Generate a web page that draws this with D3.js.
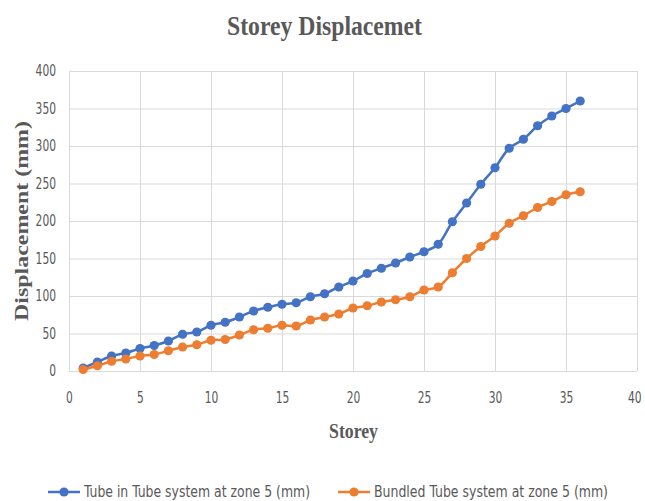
<!DOCTYPE html>
<html>
<head>
<meta charset="utf-8">
<script src="https://cdn.jsdelivr.net/npm/d3@7/dist/d3.min.js"></script>
<style>
  html, body { margin: 0; padding: 0; background: #ffffff; }
  svg { display: block; }
</style>
</head>
<body>
<div id="chart"></div>
<script>
// ---- Data ----
const storeys = d3.range(1, 37);
const tubeInTube = [4, 12, 20, 24, 30, 34, 40, 49, 52, 61, 65, 72, 80, 85, 89, 91, 99, 103, 112, 120,
  130, 137, 144, 152, 159, 169, 199, 224, 249, 271, 297, 309, 327, 340, 350, 360];
const bundledTube = [2, 7, 13, 16, 20, 22, 27, 32, 35, 41, 42, 48, 55, 57, 61, 60, 68, 72, 76, 84,
  87, 92, 95, 99, 108, 112, 131, 150, 166, 180, 197, 207, 218, 226, 235, 239];
const seriesNames = ["Tube in Tube system at zone 5 (mm)", "Bundled Tube system at zone 5 (mm)"];
const seriesColors = ["#4472C4", "#ED7D31"];
const xTicks = [0, 5, 10, 15, 20, 25, 30, 35, 40];
const yTicks = [0, 50, 100, 150, 200, 250, 300, 350, 400];
const titleText = "Storey Displacemet";
const xLabel = "Storey";
const yLabel = "Displacement (mm)";

// ---- Layout ----
const W = 645, H = 501;
const plot = { left: 69, right: 637, top: 71, bottom: 371 };

const svg = d3.select("#chart").append("svg").attr("width", W).attr("height", H);
svg.append("rect").attr("width", W).attr("height", H).attr("fill", "#fff");

const x = d3.scaleLinear().domain([0, 40]).range([plot.left, plot.right]);
const y = d3.scaleLinear().domain([0, 400]).range([plot.bottom, plot.top]);

const tickFont = "'Liberation Sans Narrow', 'DejaVu Sans Condensed', 'Open Sans', sans-serif";
const serif = "'Liberation Serif', 'DejaVu Serif', serif";

// gridlines
const grid = svg.append("g");
grid.selectAll("line.h").data(yTicks).join("line")
  .attr("x1", plot.left).attr("x2", plot.right)
  .attr("y1", d => y(d) + 0.5).attr("y2", d => y(d) + 0.5)
  .attr("stroke", "#d9d9d9").attr("stroke-width", 1);
grid.selectAll("line.v").data(xTicks).join("line")
  .attr("y1", plot.top).attr("y2", plot.bottom)
  .attr("x1", d => Math.round(x(d)) + 0.5).attr("x2", d => Math.round(x(d)) + 0.5)
  .attr("stroke", "#d9d9d9").attr("stroke-width", 1);

function styleTicks(g) {
  g.select(".domain").remove();
  g.selectAll("text")
    .attr("fill", "#595959")
    .style("font-family", tickFont).style("font-size", "15px")
    .attr("lengthAdjust", "spacingAndGlyphs")
    .attr("textLength", function () { return 6.8 * this.textContent.length; });
}

// axes (labels)
const xAxis = d3.axisBottom(x).tickValues(xTicks).tickSize(0).tickPadding(21);
const gx = svg.append("g").attr("transform", `translate(0,${plot.bottom})`).call(xAxis);
styleTicks(gx);
gx.selectAll("text").filter(d => d === 40).attr("text-anchor", "end").attr("dx", 4);

const yAxis = d3.axisLeft(y).tickValues(yTicks).tickSize(0).tickPadding(13);
const gy = svg.append("g").attr("transform", `translate(${plot.left},0)`).call(yAxis);
styleTicks(gy);

// series
const series = [tubeInTube, bundledTube];
const line = d3.line().x((d, i) => x(storeys[i])).y(d => y(d)).curve(d3.curveCatmullRom.alpha(0.5));
series.forEach((vals, si) => {
  const g = svg.append("g");
  g.append("path").datum(vals).attr("d", line)
    .attr("fill", "none").attr("stroke", seriesColors[si]).attr("stroke-width", 2.5)
    .attr("stroke-linecap", "round");
  g.selectAll("circle").data(vals).join("circle")
    .attr("cx", (d, i) => x(storeys[i])).attr("cy", d => y(d)).attr("r", 4.6)
    .attr("fill", seriesColors[si]);
});

// title
svg.append("text").attr("x", 324.5).attr("y", 35).attr("text-anchor", "middle")
  .attr("textLength", 195).attr("lengthAdjust", "spacingAndGlyphs")
  .style("font-family", serif).style("font-weight", "bold").style("font-size", "27px")
  .attr("fill", "#595959").text(titleText);

// x label
svg.append("text").attr("x", 353.5).attr("y", 438).attr("text-anchor", "middle")
  .attr("textLength", 49).attr("lengthAdjust", "spacingAndGlyphs")
  .style("font-family", serif).style("font-weight", "bold").style("font-size", "20px")
  .attr("fill", "#595959").text(xLabel);

// y label
svg.append("text").attr("transform", "translate(28,221) rotate(-90)").attr("text-anchor", "middle")
  .attr("textLength", 200).attr("lengthAdjust", "spacingAndGlyphs")
  .style("font-family", serif).style("font-weight", "bold").style("font-size", "19px")
  .attr("fill", "#595959").text(yLabel);

// legend
const legendItems = [
  { x0: 48, tx: 84, tl: 226 },
  { x0: 338, tx: 374, tl: 234 }
];
legendItems.forEach((it, i) => {
  const g = svg.append("g");
  g.append("line").attr("x1", it.x0).attr("x2", it.x0 + 32).attr("y1", 492).attr("y2", 492)
    .attr("stroke", seriesColors[i]).attr("stroke-width", 2.5);
  g.append("circle").attr("cx", it.x0 + 16).attr("cy", 492).attr("r", 4.6).attr("fill", seriesColors[i]);
  g.append("text").attr("x", it.tx).attr("y", 492).attr("dy", "0.35em")
    .attr("textLength", it.tl).attr("lengthAdjust", "spacingAndGlyphs")
    .style("font-family", tickFont).style("font-size", "15px").attr("fill", "#595959")
    .text(seriesNames[i]);
});
</script>
</body>
</html>
